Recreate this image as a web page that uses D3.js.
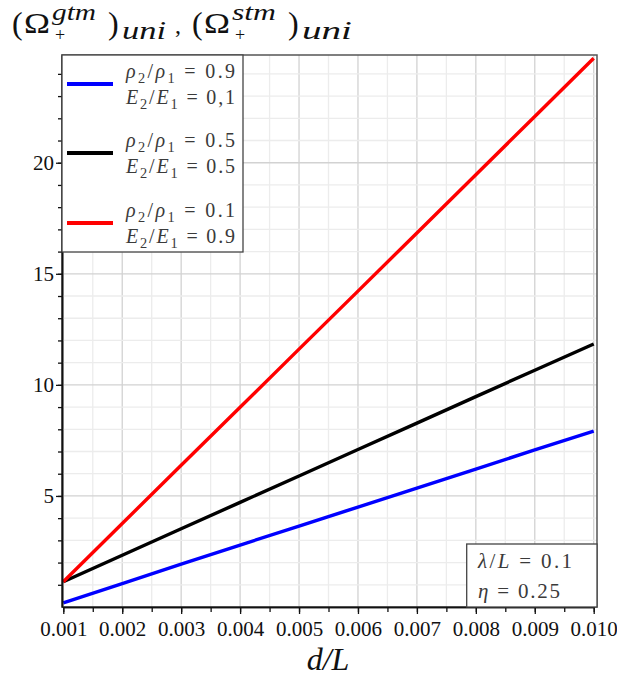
<!DOCTYPE html>
<html>
<head>
<meta charset="utf-8">
<script src="https://cdn.jsdelivr.net/npm/d3@7"></script>
<style>
  body { margin: 0; background: #fff; }
  svg text { font-family: "Liberation Serif", "Times New Roman", serif !important; }
</style>
</head>
<body>
<div id="chart"><svg width="617" height="676"></svg></div>
<script>
// d/L values along the x axis
var dL = [0.001, 0.002, 0.003, 0.004, 0.005, 0.006, 0.007, 0.008, 0.009, 0.010];
// (Omega+)uni
var seriesBlue = [0.19, 1.05, 1.93, 2.79, 3.64, 4.50, 5.35, 6.21, 7.07, 7.92];
var seriesBlack = [1.14, 2.33, 3.52, 4.71, 5.90, 7.09, 8.28, 9.47, 10.66, 11.84];
var seriesRed = [1.14, 3.76, 6.38, 8.99, 11.61, 14.22, 16.84, 19.46, 22.08, 24.70];
var legendRho = ["0.9", "0.5", "0.1"];
var legendE = ["0,1", "0.5", "0.9"];
var xTicks = [0.001, 0.002, 0.003, 0.004, 0.005, 0.006, 0.007, 0.008, 0.009, 0.010];
var yTicks = [5, 10, 15, 20];

var svg = d3.select("#chart").select("svg");
var margin = { top: 55, right: 20, bottom: 69, left: 62 };
var plotRight = 597;
var plotBottom = +svg.attr("height") - margin.bottom;

var x = d3.scaleLinear().domain([0.001, 0.010]).range([63.3, 593.7]);
var y = d3.scaleLinear().domain([0, 24.85]).range([plotBottom, margin.top]);

// grid
var minorX = d3.range(19).map(function(i) { return 0.001 + i * 0.0005; });
var minorY = d3.range(1, 25);
var grid = svg.append("g");
grid.selectAll(".gx")
  .data(minorX)
  .enter()
  .append("line")
  .attr("x1", function(d) { return x(d); })
  .attr("x2", function(d) { return x(d); })
  .attr("y1", margin.top)
  .attr("y2", plotBottom)
  .attr("stroke", function(d, i) { return i % 2 == 0 ? "#d2d2d2" : "#ececec"; })
  .attr("stroke-width", 1.3);
grid.selectAll(".gy")
  .data(minorY)
  .enter()
  .append("line")
  .attr("x1", margin.left)
  .attr("x2", plotRight)
  .attr("y1", function(d) { return y(d); })
  .attr("y2", function(d) { return y(d); })
  .attr("stroke", function(d) { return d % 5 == 0 ? "#d2d2d2" : "#ececec"; })
  .attr("stroke-width", 1.3);

// frame
svg.append("rect")
  .attr("x", margin.left)
  .attr("y", margin.top)
  .attr("width", plotRight - margin.left)
  .attr("height", plotBottom - margin.top)
  .attr("fill", "none")
  .attr("stroke", "#555")
  .attr("stroke-width", 1.5);

// curves
var line = d3.line()
  .x(function(d, i) { return x(dL[i]); })
  .y(function(d) { return y(d); });
var curves = [
  { values: seriesBlue, color: "#0000ff" },
  { values: seriesBlack, color: "#000000" },
  { values: seriesRed, color: "#ff0000" }
];
svg.selectAll(".curve")
  .data(curves)
  .enter()
  .append("path")
  .attr("class", "curve")
  .attr("fill", "none")
  .attr("stroke", function(d) { return d.color; })
  .attr("stroke-width", 3.4)
  .attr("d", function(d) { return line(d.values); });

// axes
svg.append("g")
  .attr("transform", "translate(0," + plotBottom + ")")
  .call(d3.axisBottom(x).tickValues(xTicks).tickSize(7).tickSizeOuter(0).tickPadding(7)
    .tickFormat(d3.format(".3f")));
svg.append("g")
  .attr("transform", "translate(0," + plotBottom + ")")
  .call(d3.axisBottom(x).tickValues(minorX).tickSize(5).tickSizeOuter(0).tickFormat(""));
svg.append("g")
  .attr("transform", "translate(" + margin.left + ",0)")
  .call(d3.axisLeft(y).tickValues(yTicks).tickSize(6).tickSizeOuter(0).tickPadding(2));
svg.append("g")
  .attr("transform", "translate(" + margin.left + ",0)")
  .call(d3.axisLeft(y).tickValues(minorY).tickSize(4).tickSizeOuter(0).tickFormat(""));
svg.selectAll(".domain").attr("stroke", "#111").attr("stroke-width", 1.5);
svg.selectAll(".tick line").attr("stroke", "#111").attr("stroke-width", 1.3);
svg.selectAll(".tick text")
  .attr("font-size", 21)
  .attr("fill", "#111");

// legend
var legend = svg.append("g");
legend.append("rect")
  .attr("x", margin.left)
  .attr("y", margin.top)
  .attr("width", 181)
  .attr("height", 197)
  .attr("fill", "#fff")
  .attr("stroke", "#444")
  .attr("stroke-width", 1.3);
var rowY = [84, 153, 223];
curves.forEach(function(c, i) {
  legend.append("line")
    .attr("x1", 67).attr("x2", 113)
    .attr("y1", rowY[i]).attr("y2", rowY[i])
    .attr("stroke", c.color)
    .attr("stroke-width", 4);
  mathText(legend, 126, rowY[i] - 6, [
    { t: "ρ", i: true }, { t: "2", s: true }, { t: "/" }, { t: "ρ", i: true }, { t: "1", s: true },
    { t: " = " + legendRho[i] }
  ], 20, 109);
  mathText(legend, 126, rowY[i] + 20, [
    { t: "E", i: true }, { t: "2", s: true }, { t: "/" }, { t: "E", i: true }, { t: "1", s: true },
    { t: " = " + legendE[i] }
  ], 20, 109);
});

function mathText(g, x0, y0, parts, size, len) {
  var t = g.append("text")
    .attr("x", x0)
    .attr("y", y0)
    .attr("font-size", size)
    .attr("fill", "#3a3a3a")
    .attr("textLength", len)
    .attr("lengthAdjust", "spacing");
  var shift = 0;
  parts.forEach(function(p) {
    var dy = (p.s ? 5 : 0) - shift;
    shift = p.s ? 5 : 0;
    t.append("tspan")
      .attr("dy", dy)
      .attr("font-style", p.i ? "italic" : null)
      .attr("font-size", p.s ? size * 0.72 : size)
      .text(p.t);
  });
  return t;
}

// parameter box
svg.append("rect")
  .attr("x", 466.7)
  .attr("y", 544)
  .attr("width", plotRight - 466.7)
  .attr("height", plotBottom - 544)
  .attr("fill", "#fff")
  .attr("stroke", "#444")
  .attr("stroke-width", 1.3);
mathText(svg, 478, 568, [{ t: "λ", i: true }, { t: "/" }, { t: "L", i: true }, { t: " = 0.1" }], 21, 94);
mathText(svg, 478, 598, [{ t: "η", i: true }, { t: " = 0.25" }], 21, 82);

// x label
svg.append("text")
  .attr("x", 328)
  .attr("y", 670)
  .attr("text-anchor", "middle")
  .attr("font-size", 32)
  .attr("font-style", "italic")
  .attr("fill", "#111")
  .text("d/L");

// title
var title = svg.append("g").attr("fill", "#111");
function piece(t, px, py, size, italic, len) {
  var e = title.append("text")
    .attr("x", px)
    .attr("y", py)
    .attr("font-size", size)
    .attr("font-style", italic ? "italic" : null)
    .text(t);
  if (len) e.attr("textLength", len).attr("lengthAdjust", "spacingAndGlyphs");
}
[0, 180].forEach(function(off, k) {
  piece("(", 12 + off, 34, 32);
  piece("Ω", 24 + off, 33, 29, false, 26);
  piece(k == 0 ? "gtm" : "stm", 52 + off, 20, 24, true, 44);
  piece("+", 55 + off, 41, 18);
  piece(")", 108 + off, 34, 32);
  piece("uni", 122 + off, 39, 25, true, 44 + k * 6);
});
piece(",", 175, 33, 24);
</script>
</body>
</html>
